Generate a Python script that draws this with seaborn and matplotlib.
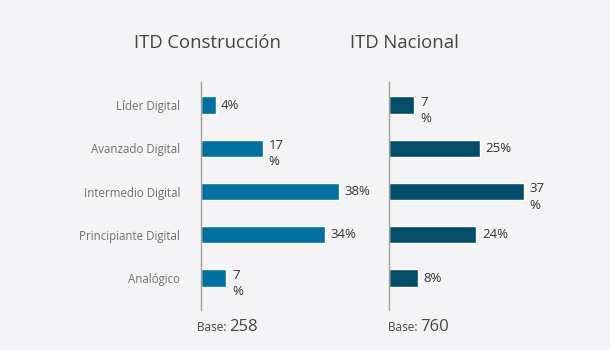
import matplotlib
matplotlib.use("Agg")
import matplotlib.pyplot as plt
import seaborn as sns
import pandas as pd

categories = ["Líder Digital", "Avanzado Digital", "Intermedio Digital",
              "Principiante Digital", "Analógico"]
construccion = [4, 17, 38, 34, 7]
nacional = [7, 25, 37, 24, 8]
titles = ["ITD Construcción", "ITD Nacional"]
bases = [258, 760]
wrap_construccion = [False, True, False, False, True]
wrap_nacional = [True, False, True, False, False]

BG = "#f4f4f7"
sns.set_theme(style="white")
plt.rcParams["font.family"] = ["Open Sans", "DejaVu Sans"]

fig = plt.figure(figsize=(6.1, 3.5), dpi=100, facecolor=BG)
W, H = 610, 350
top, bottom = 82, 310
axes_spec = [(201, "#0070a0", construccion, wrap_construccion),
             (389, "#034d68", nacional, wrap_nacional)]

for i, (x0, color, vals, wraps) in enumerate(axes_spec):
    ax = fig.add_axes([x0 / W, 1 - bottom / H, 182 / W, (bottom - top) / H])
    ax.set_facecolor(BG)
    df = pd.DataFrame({"cat": categories, "val": vals})
    sns.barplot(data=df, y="cat", x="val", orient="h", color=color,
                width=0.4, saturation=1, ax=ax)
    ax.set_xlim(0, 50)
    ax.set_ylim(4.74, -0.535)
    ax.set_xlabel("")
    ax.set_ylabel("")
    ax.set_xticks([])
    for s in ["top", "right", "bottom"]:
        ax.spines[s].set_visible(False)
    ax.spines["left"].set_color("#a0a0a0")
    ax.spines["left"].set_linewidth(1)
    if i == 0:
        ax.tick_params(axis="y", length=0, pad=15, labelsize=8.3, labelcolor="#707070")
    else:
        ax.set_yticks([])
    for j, (v, w) in enumerate(zip(vals, wraps)):
        if w:
            ax.text(v + 1.5, j - 0.22, f"{v}\n%", va="top", ha="left",
                    fontsize=9.5, color="#333333", linespacing=1.35)
        else:
            ax.text(v + 1.5, j, f"{v}%", va="center", ha="left",
                    fontsize=9.5, color="#333333")

fig.text(207 / W, 1 - 43 / H, titles[0], ha="center", va="center",
         fontsize=13.3, color="#444444")
fig.text(404 / W, 1 - 43 / H, titles[1], ha="center", va="center",
         fontsize=13.3, color="#444444")

for bx, b in zip([197, 388], bases):
    t = fig.text(bx / W, 1 - 331 / H, "Base: ", ha="left", va="baseline",
                 fontsize=8.5, color="#444444")
    fig.canvas.draw()
    bb = t.get_window_extent()
    fig.text(bb.x1 / (W), 1 - 331 / H, f"{b}", ha="left", va="baseline",
             fontsize=12, color="#444444")

fig.savefig("out.png", dpi=100, facecolor=BG)
